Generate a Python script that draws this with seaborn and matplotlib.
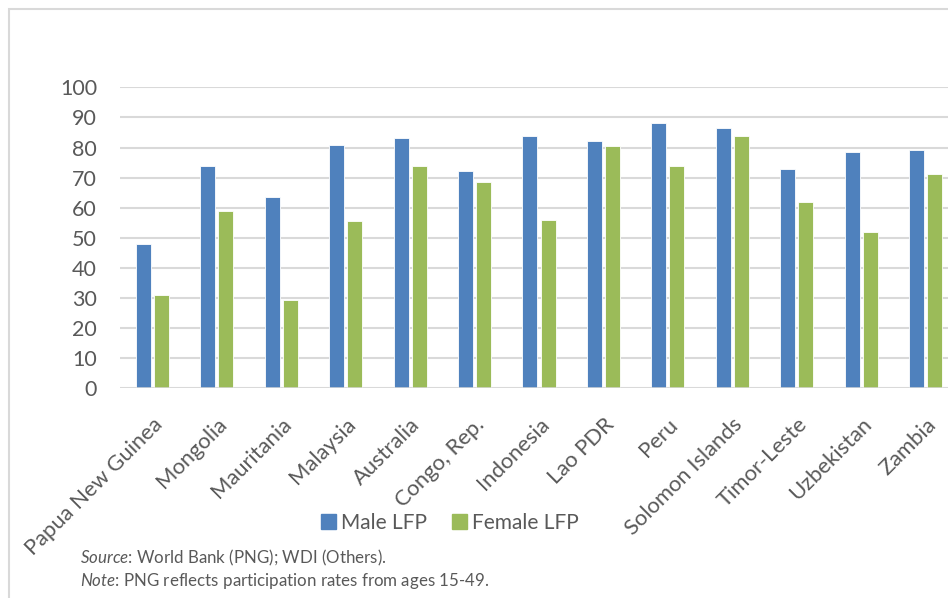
import numpy as np
import pandas as pd
import matplotlib
matplotlib.use('Agg')
import matplotlib.pyplot as plt
import seaborn as sns
from matplotlib.patches import Rectangle

# Data
countries = ['Papua New Guinea', 'Mongolia', 'Mauritania', 'Malaysia', 'Australia',
             'Congo, Rep.', 'Indonesia', 'Lao PDR', 'Peru', 'Solomon Islands',
             'Timor-Leste', 'Uzbekistan', 'Zambia']
male_lfp = [48.0, 73.9, 63.7, 80.7, 83.1, 72.1, 83.9, 82.3, 88.0, 86.5, 72.7, 78.5, 79.2]
female_lfp = [31.0, 58.9, 29.2, 55.4, 73.7, 68.4, 55.9, 80.4, 73.9, 83.9, 62.0, 52.0, 71.2]
series = ['Male LFP', 'Female LFP']
colors = ['#4F81BD', '#9BBB59']

df = pd.DataFrame({
    'Country': countries * 2,
    'Series': [series[0]] * len(countries) + [series[1]] * len(countries),
    'Value': male_lfp + female_lfp,
})

sns.set_style('white')
plt.rcParams['font.family'] = ['Lato', 'DejaVu Sans']
plt.rcParams['mathtext.fontset'] = 'custom'
plt.rcParams['mathtext.it'] = 'Lato:italic'
plt.rcParams['mathtext.rm'] = 'Lato'

fig = plt.figure(figsize=(9.48, 5.98), dpi=100)
ax = fig.add_axes([120 / 948, 210 / 598, 838 / 948, 300.6 / 598])

sns.barplot(data=df, x='Country', y='Value', hue='Series', hue_order=series,
            palette=colors, saturation=1, width=0.56, gap=0.17, edgecolor='white',
            linewidth=0.6, ax=ax, zorder=3)

ax.set_ylim(0, 100)
ax.set_xlim(-0.5, len(countries) - 0.5)
ax.set_yticks(range(0, 101, 10))
ax.yaxis.grid(True, color='#D9D9D9', linewidth=1.5, zorder=0)
ax.set_axisbelow(True)
for s in ax.spines.values():
    s.set_visible(False)
ax.axhline(0, color='#D9D9D9', linewidth=1.8, zorder=4)

ax.set_xlabel('')
ax.set_ylabel('')
ax.tick_params(axis='y', length=0, pad=16.5, labelsize=15.5, labelcolor='#595959')
ax.tick_params(axis='x', length=0, pad=19, labelsize=15.8, labelcolor='#595959')
plt.setp(ax.get_xticklabels(), rotation=45, ha='right', rotation_mode='anchor')

ax.get_legend().remove()
handles = [Rectangle((0, 0), 1, 1, color=c) for c in colors]
fig.legend(handles, series, loc='center', bbox_to_anchor=(450 / 948, 1 - 523 / 598),
           ncol=2, frameon=False, fontsize=15, handlelength=0.7, handleheight=0.7,
           handletextpad=0.25, columnspacing=1.2, labelcolor='#595959')

fig.text(80 / 948, 1 - 558 / 598, r'$\it{Source}$: World Bank (PNG); WDI (Others).',
         fontsize=12.2, color='#595959', va='center')
fig.text(80 / 948, 1 - 581 / 598, r'$\it{Note}$: PNG reflects participation rates from ages 15-49.',
         fontsize=12.2, color='#595959', va='center')

# outer chart frame (only top and left visible in the crop)
fig.patches.append(Rectangle((9 / 948, -0.1), 1.2, 1 - 9 / 598 + 0.1, transform=fig.transFigure,
                             fill=False, edgecolor='#D9D9D9', linewidth=1.5))

fig.savefig('out.png', dpi=100)
